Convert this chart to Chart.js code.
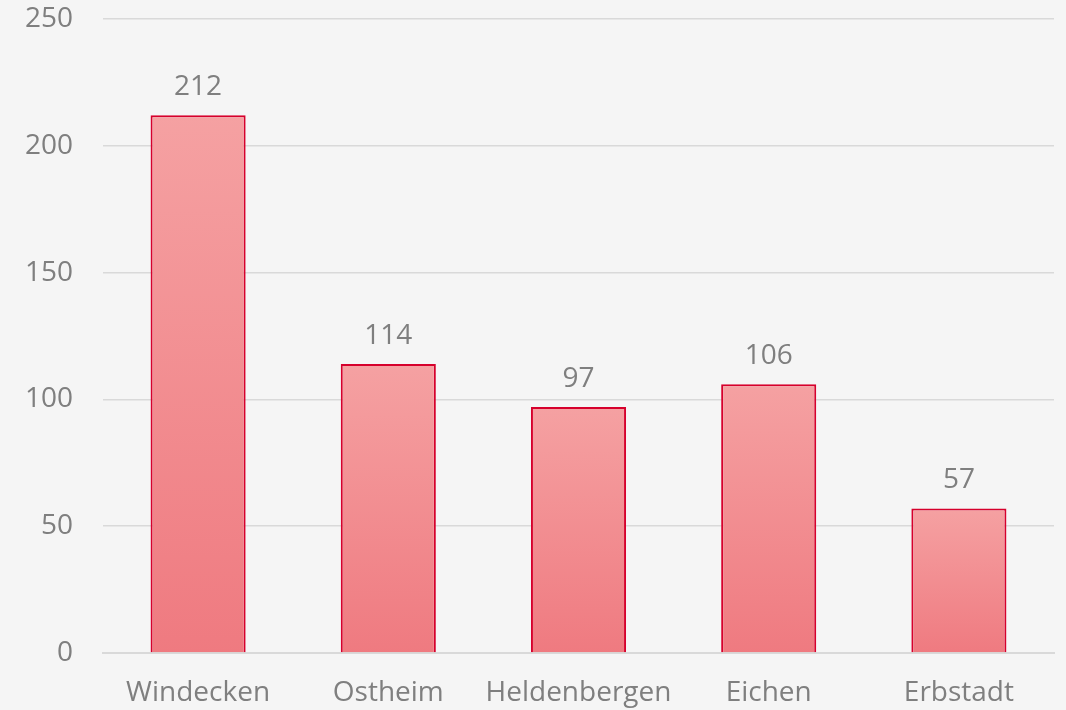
<!DOCTYPE html>
<html>
<head>
<meta charset="utf-8">
<script src="https://cdn.jsdelivr.net/npm/chart.js@4"></script>
<style>
  html, body { margin: 0; padding: 0; background: #f5f5f5; }
  #wrap { width: 1066px; height: 710px; }
</style>
</head>
<body>
<div id="wrap"><canvas id="barChart"></canvas></div>
<script>
// ===== DATA =====
const places = ["Windecken", "Ostheim", "Heldenbergen", "Eichen", "Erbstadt"];
const counts = [212, 114, 97, 106, 57];
const yTicks = [0, 50, 100, 150, 200, 250];

const labelFont = { family: "'Open Sans', 'Noto Sans', sans-serif", size: 28 };
const grey = "#7f7f7f";

// gradient for each bar, from its top to the zero line
function barFill(ctx) {
  const chart = ctx.chart;
  const y = chart.scales.y;
  if (!chart.chartArea || !y || ctx.raw === undefined) return "#f19095";
  const top = y.getPixelForValue(ctx.raw);
  const bottom = y.getPixelForValue(0);
  const g = chart.ctx.createLinearGradient(0, top, 0, bottom);
  g.addColorStop(0, "#f5a1a2");
  g.addColorStop(1, "#ef7a80");
  return g;
}

// values above the bars
const valueLabels = {
  id: "valueLabels",
  afterDatasetsDraw(chart) {
    const ctx = chart.ctx;
    const meta = chart.getDatasetMeta(0);
    ctx.save();
    ctx.font = labelFont.size + "px " + labelFont.family;
    ctx.fillStyle = grey;
    ctx.textAlign = "center";
    ctx.textBaseline = "middle";
    meta.data.forEach((bar, i) => {
      ctx.fillText(counts[i], bar.x, bar.y - 28);
    });
    ctx.restore();
  }
};

new Chart(document.getElementById("barChart"), {
  type: "bar",
  data: {
    labels: places,
    datasets: [{
      data: counts,
      backgroundColor: barFill,
      borderColor: "#d6002c",
      borderWidth: 2,
      barPercentage: 0.5,
      categoryPercentage: 1
    }]
  },
  options: {
    responsive: true,
    maintainAspectRatio: false,
    animation: false,
    layout: { padding: { top: 19, right: 12, left: 0, bottom: 0 } },
    plugins: { legend: { display: false }, tooltip: { enabled: false } },
    scales: {
      x: {
        grid: { display: false },
        border: { color: "#d9d9d9", width: 2 },
        ticks: { color: grey, font: labelFont, padding: 15, maxRotation: 0, minRotation: 0, autoSkip: false },
        afterFit(scale) { scale.height = 57; scale.paddingLeft = 0; scale.paddingRight = 0; }
      },
      y: {
        min: 0,
        max: 250,
        afterBuildTicks(scale) { scale.ticks = yTicks.map(v => ({ value: v })); },
        grid: { color: "#d9d9d9", lineWidth: 1.5, drawTicks: false },
        border: { display: false },
        ticks: { color: grey, font: labelFont, padding: 30 },
        afterFit(scale) { scale.width = 103; scale.paddingTop = 0; scale.paddingBottom = 0; }
      }
    }
  },
  plugins: [valueLabels]
});
</script>
</body>
</html>
